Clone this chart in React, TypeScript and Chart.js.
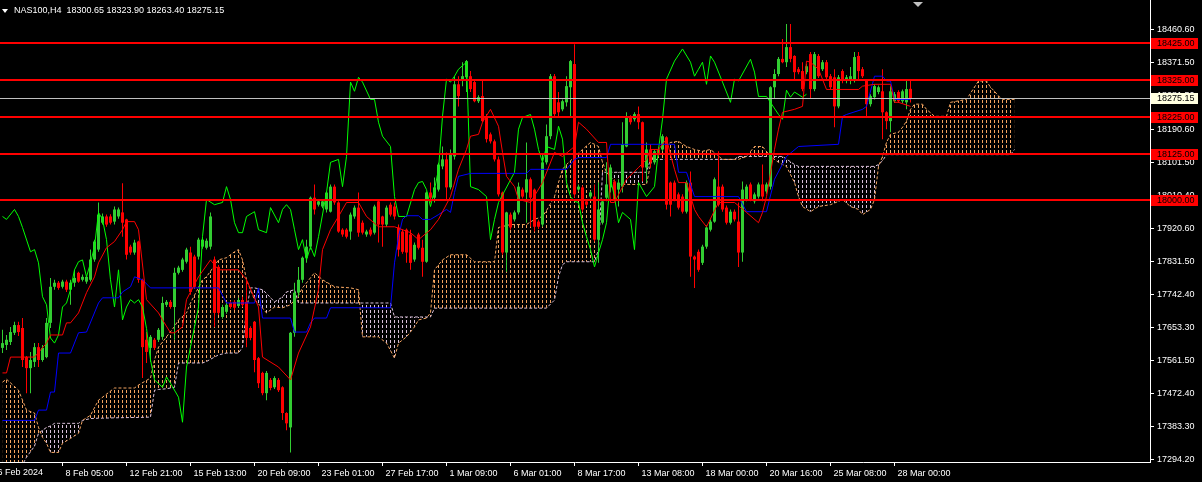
import React, { useEffect, useRef } from 'react';
import { Chart, registerables } from 'chart.js';
Chart.register(...registerables);

const W = 1202, H = 482;
const PRICE_MIN = 17287, PRICE_MAX = 18542;
const BAR_MIN = -0.625, BAR_MAX = 286.875;
const FONT = 'Liberation Sans';

const title = 'NAS100,H4  18300.65 18323.90 18263.40 18275.15';
const firstDateLabel = '6 Feb 2024';
const xTickBars = [15, 31, 47, 63, 79, 95, 111, 127, 143, 159, 175, 191, 207, 223];
const xTickLabels = ['8 Feb 05:00', '12 Feb 21:00', '15 Feb 13:00', '20 Feb 09:00', '23 Feb 01:00', '27 Feb 17:00', '1 Mar 09:00', '6 Mar 01:00', '8 Mar 17:00', '13 Mar 08:00', '18 Mar 00:00', '20 Mar 16:00', '25 Mar 08:00', '28 Mar 00:00'];
const yTicks = [17294.2, 17383.3, 17472.4, 17561.5, 17653.3, 17742.4, 17831.5, 17920.6, 18010.4, 18101.5, 18190.6, 18281.5, 18371.5, 18460.6];
const levels = [18425, 18325, 18225, 18125, 18000];
const bid = 18275.15;

const open = [
17597,17605,17613,17638,17659,17651,17572,17542,17559,17599,
17564,17572,17665,17763,17774,17763,17777,17755,17774,17801,
17782,17777,17782,17837,17864,17937,17954,17954,17940,17954,
17965,17946,17872,17856,17886,17782,17619,17597,17619,17619,
17627,17714,17722,17708,17801,17809,17831,17856,17845,17845,
17872,17869,17872,17837,17817,17681,17695,17719,17722,17711,
17727,17722,17651,17668,17569,17529,17474,17510,17490,17510,
17490,17420,17381,17638,17747,17782,17842,17872,18005,17986,
17981,17973,17967,18035,17992,17918,17918,17913,17954,17978,
17937,17905,17918,17910,17995,17954,17932,17986,17981,17924,
17913,17918,17905,17837,17905,17869,17831,18019,18005,18027,
18090,18109,18033,18117,18313,18322,18332,18335,18319,18267,
18281,18226,18177,18158,18109,18019,17856,17959,17946,17965,
18027,18019,18055,18027,17940,17932,18101,18172,18335,18264,
18245,18264,18305,18368,18027,18033,17995,18008,18008,17891,
17937,18005,18033,18049,18027,18035,18144,18223,18218,18232,
18210,18087,18136,18101,18136,18136,18169,18046,18046,18014,
18008,17967,18046,17845,17858,17828,17872,17918,17940,18035,
18035,17978,17937,17967,17940,17856,18000,18041,17995,18008,
18041,18022,18035,18305,18341,18382,18373,18414,18390,18354,
18349,18346,18395,18300,18390,18354,18373,18335,18332,18253,
18349,18322,18322,18322,18390,18354,18322,18259,18278,18292,
18294,18237,18213,18267,18292,18267,18264,18300.65];
const high = [
17646,17632,17654,17668,17668,17678,17575,17586,17610,17610,
17605,17678,17787,17782,17779,17782,17782,17782,17809,17804,
17796,17793,17864,17891,17992,17962,17959,17960,17981,17978,
18044,17948,17877,17891,17888,17785,17640,17632,17624,17651,
17736,17727,17727,17815,17820,17842,17869,17872,17850,17896,
17896,17894,17965,17845,17822,17714,17719,17725,17727,17733,
17736,17782,17656,17670,17572,17532,17534,17515,17520,17515,
17493,17422,17640,17774,17817,17845,17891,18008,18041,18000,
18000,18022,18041,18041,17995,17922,17922,17965,17984,18019,
17943,17918,17924,17986,18000,17956,17984,17992,17992,17932,
17918,17921,17918,17883,17910,17891,18022,18046,18060,18100,
18144,18128,18136,18335,18335,18373,18379,18349,18322,18283,
18322,18232,18182,18163,18117,18022,17967,17965,17970,18046,
18033,18155,18060,18030,17945,18123,18204,18341,18341,18292,
18272,18335,18379,18422,18041,18038,18000,18024,18041,18046,
18000,18101,18095,18055,18055,18210,18237,18229,18237,18253,
18212,18155,18150,18136,18142,18177,18172,18049,18052,18019,
18014,18052,18076,17848,17864,17877,17930,17946,18060,18131,
18041,17984,17973,17973,17992,18049,18041,18046,18019,18046,
18095,18046,18308,18354,18387,18436,18477,18477,18392,18360,
18373,18368,18401,18401,18395,18379,18379,18341,18354,18338,
18354,18338,18360,18401,18401,18360,18327,18286,18313,18310,
18354,18240,18308,18292,18297,18299,18322,18323.9];
const low = [
17583,17591,17605,17632,17629,17545,17474,17474,17545,17545,
17559,17569,17651,17755,17755,17758,17749,17714,17763,17774,
17777,17771,17777,17831,17858,17932,17926,17932,17932,17948,
17899,17837,17850,17850,17774,17515,17556,17559,17591,17613,
17619,17708,17703,17619,17796,17804,17826,17741,17757,17837,
17866,17864,17864,17654,17686,17676,17690,17703,17700,17706,
17708,17599,17618,17531,17488,17468,17455,17482,17485,17477,
17401,17373,17313,17627,17736,17774,17828,17864,17959,17981,
17976,17965,17965,17986,17910,17899,17894,17891,17948,17899,
17905,17899,17900,17905,17883,17872,17926,17954,17946,17845,
17853,17828,17809,17831,17864,17790,17828,17992,17992,18022,
18082,18000,18027,18109,18253,18308,18292,18292,18264,18262,
18210,18155,18152,18103,18008,17850,17804,17918,17940,17959,
18003,17937,17926,17913,17920,17926,18095,18164,18226,18226,
18240,18253,18226,18005,18022,17967,17981,18003,17886,17828,
17932,17995,18019,17995,17981,18019,18142,18204,18212,18191,
18049,18046,18087,18095,18117,18131,17973,17954,17995,17973,
17962,17962,17790,17760,17804,17822,17866,17913,17937,17981,
17967,17932,17932,17940,17817,17831,17995,17995,17989,18003,
17995,18016,18027,18273,18335,18370,18360,18373,18322,18340,
18294,18340,18273,18294,18330,18349,18327,18300,18196,18248,
18316,18316,18313,18318,18327,18330,18223,18253,18272,18286,
18164,18191,18183,18262,18262,18262,18245,18263.4];
const close = [
17610,17619,17640,17659,17640,17564,17542,17564,17599,17564,
17597,17665,17763,17774,17760,17777,17755,17774,17787,17777,
17790,17790,17837,17886,17959,17954,17932,17937,17973,17973,
17937,17850,17856,17883,17782,17599,17586,17627,17597,17646,
17719,17722,17708,17801,17815,17837,17864,17749,17763,17891,
17891,17888,17954,17692,17692,17708,17714,17708,17706,17727,
17714,17624,17624,17564,17501,17474,17529,17488,17515,17482,
17420,17392,17638,17747,17782,17842,17872,18005,17973,17995,
17995,18019,18035,17992,17913,17905,17899,17959,17978,17910,
17910,17913,17905,17981,17932,17932,17978,17959,17954,17864,
17858,17856,17828,17877,17869,17831,18019,18005,18033,18095,
18109,18033,18123,18313,18281,18335,18376,18300,18267,18278,
18213,18164,18158,18109,18014,17856,17965,17924,17965,18035,
18008,18055,18005,17926,17926,18101,18172,18335,18232,18237,
18267,18308,18376,18014,18035,17973,17986,18019,17891,17973,
17995,18041,18087,18000,18046,18150,18223,18210,18232,18210,
18087,18136,18101,18131,18123,18172,17986,17986,18000,17978,
17967,18046,17845,17837,17809,17872,17924,17940,18055,17986,
17973,17937,17967,17946,17856,18027,18035,18000,18014,18041,
18008,18041,18305,18341,18382,18373,18414,18382,18346,18346,
18300,18362,18300,18395,18335,18373,18332,18305,18253,18332,
18322,18332,18335,18387,18349,18335,18259,18281,18308,18305,
18237,18213,18294,18286,18267,18294,18300,18275.15];

// Ichimoku lines: [bar, price] vertices
const tenkan = [[0,17529],[1,17529],[2,17572],[8,17572],[11,17610],[12,17632],[15,17632],[16,17665],[17,17665],[19,17692],[21,17747],[23,17790],[24,17828],[26,17869],[28,17886],[30,17918],[31,17940],[33,17940],[34,17918],[36,17728],[39,17692],[40,17673],[42,17638],[43,17638],[45,17654],[46,17728],[49,17790],[52,17836],[54,17809],[59,17809],[61,17782],[64,17708],[65,17572],[69,17545],[72,17510],[74,17583],[77,17654],[79,17755],[80,17864],[82,17918],[84,17954],[86,17992],[89,17992],[91,17954],[94,17926],[98,17926],[102,17910],[104,17891],[107,17918],[109,17946],[112,18008],[114,18082],[116,18136],[117,18172],[119,18177],[120,18210],[122,18245],[124,18199],[125,18128],[126,18063],[128,18035],[129,18000],[132,17992],[135,18046],[138,18128],[140,18117],[143,18144],[144,18210],[146,18191],[149,18155],[151,18155],[152,17992],[153,17992],[156,18055],[159,18087],[161,18109],[162,18136],[164,18136],[166,18164],[168,18082],[169,18046],[171,18046],[173,17973],[174,17954],[176,17926],[179,17992],[183,17992],[186,17965],[189,17937],[190,17965],[191,18008],[193,18136],[194,18191],[195,18237],[198,18245],[200,18253],[201,18376],[202,18373],[204,18354],[206,18299],[214,18299],[215,18308],[218,18313],[222,18313],[223,18264],[224,18264],[227,18253]];
const kijun = [[0,17400],[8,17400],[9,17428],[11,17428],[12,17477],[13,17477],[14,17583],[17,17583],[19,17638],[21,17640],[24,17719],[25,17733],[29,17733],[30,17749],[32,17763],[33,17790],[35,17782],[37,17760],[54,17760],[56,17719],[63,17719],[64,17760],[65,17678],[72,17678],[73,17640],[76,17640],[77,17665],[78,17678],[81,17678],[82,17706],[97,17706],[98,17828],[99,17899],[100,17946],[101,17956],[104,17956],[105,17946],[107,17946],[109,17959],[111,17973],[112,17965],[113,18019],[114,18063],[117,18071],[131,18071],[132,18082],[141,18082],[143,18109],[144,18114],[151,18114],[152,18150],[168,18150],[169,18074],[171,18074],[173,18008],[184,18008],[186,17967],[191,17967],[193,18055],[196,18117],[199,18144],[209,18150],[210,18226],[211,18231],[215,18245],[216,18253],[218,18335],[220,18335],[221,18322],[222,18322],[223,18272],[227,18272]];
const chikou = [[0,17954],[1,17946],[3,17973],[4,17954],[5,17924],[7,17858],[8,17864],[9,17828],[10,17736],[11,17714],[12,17624],[13,17610],[14,17632],[15,17708],[16,17719],[17,17755],[18,17809],[19,17831],[20,17836],[21,17790],[22,17828],[23,17872],[24,17965],[25,17946],[26,17891],[27,17782],[28,17708],[29,17809],[30,17673],[31,17708],[32,17728],[33,17719],[34,17728],[35,17708],[36,17650],[37,17564],[38,17510],[40,17490],[41,17518],[42,17501],[44,17463],[45,17395],[46,17545],[49,17708],[50,17899],[51,18000],[53,17986],[55,17992],[56,18035],[57,18000],[58,17937],[59,17910],[60,17910],[61,17954],[63,17967],[64,17918],[66,17910],[67,17978],[69,17937],[70,17973],[71,17986],[72,17973],[73,17918],[74,17864],[75,17891],[76,17836],[77,17872],[78,17845],[79,17899],[81,18019],[82,18101],[84,18109],[85,18035],[86,18117],[87,18319],[88,18294],[89,18332],[90,18319],[92,18272],[93,18272],[94,18210],[95,18172],[97,18144],[98,18008],[99,17954],[101,17954],[103,18027],[104,18046],[105,18049],[106,18027],[107,17981],[108,18027],[109,18082],[110,18226],[111,18327],[112,18319],[113,18335],[114,18354],[116,18373],[117,18035],[119,18027],[121,18008],[122,17891],[123,17946],[124,17992],[128,18074],[129,18191],[130,18223],[132,18231],[133,18191],[134,18136],[135,18101],[136,18144],[138,18136],[139,18199],[140,18164],[141,18046],[142,18008],[143,17995],[144,17992],[145,17937],[146,17899],[147,17864],[148,17817],[149,17855],[150,17891],[151,17937],[152,18055],[153,18008],[154,17937],[155,17965],[157,17946],[158,17864],[159,18046],[161,18008],[163,18035],[164,18136],[165,18218],[166,18327],[168,18376],[170,18409],[172,18373],[173,18335],[174,18354],[175,18373],[176,18313],[177,18390],[178,18373],[180,18319],[182,18264],[183,18327],[184,18322],[187,18381],[188,18346],[189,18280],[191,18280],[194,18231],[195,18218],[196,18297],[197,18278],[198,18292],[200,18278],[201,18286]];

// Cloud (Senkou spans), shared bar grid
const cloudBars = [0,1,4,5,6,8,9,10,11,12,13,14,15,17,19,20,22,24,25,28,33,34,37,38,39,41,43,44,46,47,50,51,54,56,58,59,60,61,62,63,65,66,68,70,71,72,73,74,75,78,80,83,87,89,90,94,96,97,98,99,101,103,104,106,107,108,110,112,116,118,123,124,127,131,133,135,136,138,139,140,141,145,147,148,149,150,151,153,154,161,162,163,167,169,171,173,175,177,180,183,184,186,188,190,192,194,195,196,198,199,200,202,204,207,209,210,212,214,215,217,218,219,220,221,222,224,225,226,227,228,230,231,233,236,237,241,244,246,247,248,249,250,252,253];
const spanA = [17504,17512,17482,17455,17428,17420,17381,17354,17338,17313,17313,17313,17338,17351,17365,17400,17414,17455,17463,17488,17488,17496,17515,17564,17599,17627,17655,17673,17692,17719,17782,17790,17836,17842,17858,17864,17836,17782,17755,17728,17705,17692,17708,17706,17710,17714,17727,17740,17760,17801,17782,17763,17760,17755,17627,17627,17610,17590,17569,17610,17627,17654,17673,17678,17692,17809,17836,17850,17850,17831,17831,17924,17932,17932,17946,17954,17970,18008,18046,18082,18095,18136,18155,18150,18144,18101,18074,18049,18041,18041,18095,18128,18155,18158,18144,18136,18131,18136,18109,18109,18109,18117,18144,18144,18117,18101,18095,18090,18046,18008,17981,17967,17981,17986,17995,18000,17981,17973,17959,17973,18000,18090,18117,18155,18177,18183,18196,18213,18245,18259,18259,18245,18226,18226,18264,18272,18322,18322,18305,18294,18281,18272,18272,18272];
const spanB = [17260,17261,17265,17280,17300,17330,17365,17373,17381,17385,17392,17392,17392,17392,17392,17400,17405,17406,17406,17407,17408,17408,17409,17482,17484,17486,17490,17556,17556,17556,17556,17560,17578,17583,17583,17583,17599,17700,17760,17760,17755,17745,17722,17735,17749,17752,17755,17719,17719,17719,17719,17719,17719,17719,17719,17719,17719,17719,17681,17681,17681,17681,17681,17681,17681,17705,17705,17705,17705,17705,17705,17705,17705,17705,17705,17705,17705,17727,17790,17823,17831,17831,17831,17831,17864,18074,18074,18074,18074,18074,18109,18109,18109,18109,18109,18109,18109,18109,18109,18109,18117,18117,18117,18117,18117,18117,18117,18110,18095,18090,18090,18090,18090,18090,18090,18090,18090,18090,18090,18090,18090,18095,18105,18122,18122,18122,18122,18122,18122,18122,18122,18122,18122,18122,18122,18122,18122,18122,18122,18122,18122,18122,18122,18136,18150];

const BULL = '#32cd32', BEAR = '#ff0000';

function hatch(color: string) {
  const c = document.createElement('canvas');
  c.width = 4; c.height = 5;
  const g = c.getContext('2d')!;
  g.fillStyle = color;
  g.fillRect(2, 0, 1, 3);
  return g.createPattern(c, 'repeat')!;
}

const pts = (arr: number[][]) => arr.map(([x, y]) => ({ x, y }));

export default function App() {
  const ref = useRef<HTMLCanvasElement | null>(null);
  useEffect(() => {
    document.body.style.margin = '0';
    document.body.style.background = '#000';
    document.body.style.overflow = 'hidden';
    const canvas = ref.current!;
    const colors = open.map((o, i) => (close[i] >= o ? BULL : BEAR));
    const font = { family: FONT, size: 9 };

    const overlay = {
      id: 'overlay',
      afterDatasetsDraw(chart: any) {
        const { ctx, chartArea: a, scales } = chart;
        const y = scales.y;
        ctx.save();
        ctx.beginPath();
        ctx.rect(a.left, a.top, a.right - a.left, a.bottom - a.top);
        ctx.clip();
        const yb = Math.round(y.getPixelForValue(bid));
        ctx.fillStyle = '#c0c0c0';
        ctx.fillRect(a.left, yb, a.right - a.left, 1);
        ctx.fillStyle = '#ff0000';
        for (const lv of levels) {
          const yy = Math.round(y.getPixelForValue(lv));
          ctx.fillRect(a.left, yy - 1, a.right - a.left, 2);
        }
        ctx.restore();
      },
      afterDraw(chart: any) {
        const { ctx, chartArea: a, scales } = chart;
        const y = scales.y, x = scales.x;
        ctx.save();
        ctx.font = `9px "${FONT}"`;
        ctx.textBaseline = 'middle';
        ctx.textAlign = 'left';
        const box = (v: number, bg: string) => {
          const yy = Math.round(y.getPixelForValue(v));
          ctx.fillStyle = bg;
          ctx.fillRect(a.right + 1, yy - 5, 47, 11);
          ctx.fillStyle = '#000';
          ctx.fillText(v.toFixed(2), a.right + 7, yy + 0.5);
        };
        for (const lv of levels) box(lv, '#ff0000');
        box(bid, '#ffffe0');
        ctx.fillStyle = '#ffffff';
        ctx.beginPath();
        ctx.moveTo(2, 9); ctx.lineTo(8, 9); ctx.lineTo(5, 13); ctx.closePath();
        ctx.fill();
        ctx.fillText(title, 14, 10.5);
        ctx.textBaseline = 'top';
        ctx.fillText(firstDateLabel, x.getPixelForValue(-2) + 3, a.bottom + 6);
        ctx.fillStyle = '#c0c0c0';
        ctx.beginPath();
        ctx.moveTo(913, 2); ctx.lineTo(923, 2); ctx.lineTo(918, 7); ctx.closePath();
        ctx.fill();
        ctx.restore();
      },
    };

    const datasets: any[] = [
      { type: 'line', data: pts(tenkan), borderColor: '#ff0000', borderWidth: 1, pointRadius: 0, tension: 0, order: 1 },
      { type: 'line', data: pts(kijun), borderColor: '#0000ff', borderWidth: 1, pointRadius: 0, tension: 0, order: 1 },
      { type: 'line', data: pts(chikou), borderColor: '#00ff00', borderWidth: 1, pointRadius: 0, tension: 0, order: 1 },
      { type: 'bar', data: open.map((o, i) => ({ x: i, y: [o, close[i]] })), backgroundColor: colors, barThickness: 3, maxBarThickness: 3, grouped: false, inflateAmount: 0, borderWidth: 0, order: 2 },
      { type: 'bar', data: low.map((l, i) => ({ x: i, y: [l, high[i]] })), backgroundColor: colors, barThickness: 1, maxBarThickness: 1, grouped: false, inflateAmount: 0, borderWidth: 0, order: 3 },
      { type: 'line', data: cloudBars.map((b, i) => ({ x: b, y: spanA[i] })), borderColor: '#f4a460', borderWidth: 1, borderDash: [3, 2], pointRadius: 0, tension: 0, fill: false, order: 7 },
      { type: 'line', data: cloudBars.map((b, i) => ({ x: b, y: spanB[i] })), borderColor: '#d8bfd8', borderWidth: 1, borderDash: [3, 2], pointRadius: 0, tension: 0, fill: false, order: 8 },
    ];
    datasets.push({
      type: 'line', data: cloudBars.map((b, i) => ({ x: b, y: spanA[i] })), borderColor: 'rgba(0,0,0,0)', borderWidth: 0, pointRadius: 0, tension: 0,
      fill: { target: 6, above: hatch('#f4a460'), below: hatch('#d8bfd8') }, order: 9,
    });

    const chart = new Chart(canvas, {
      type: 'bar',
      data: { datasets },
      options: {
        animation: false,
        responsive: false,
        maintainAspectRatio: false,
        events: [],
        layout: { padding: 0 },
        plugins: { legend: { display: false }, tooltip: { enabled: false } },
        scales: {
          x: {
            type: 'linear', min: BAR_MIN, max: BAR_MAX, offset: false, position: 'bottom',
            afterBuildTicks: (s: any) => { s.ticks = xTickBars.map((v) => ({ value: v })); },
            afterFit: (s: any) => { s.height = 20; s.paddingLeft = 0; s.paddingRight = 0; s.paddingTop = 0; s.paddingBottom = 0; },
            ticks: { autoSkip: false, maxRotation: 0, align: 'start', labelOffset: 3, padding: 2, color: '#ffffff', font,
              callback: (v: any) => { const k = xTickBars.indexOf(Number(v)); return k >= 0 ? xTickLabels[k] : ''; } },
            grid: { drawOnChartArea: false, drawTicks: true, tickLength: 4, color: '#ffffff', offset: false },
            border: { display: true, color: '#ffffff' },
          },
          y: {
            type: 'linear', position: 'right', min: PRICE_MIN, max: PRICE_MAX, beginAtZero: false,
            afterBuildTicks: (s: any) => { s.ticks = yTicks.map((v) => ({ value: v })); },
            afterFit: (s: any) => { s.width = 52; s.paddingTop = 0; s.paddingBottom = 0; s.paddingLeft = 0; s.paddingRight = 0; },
            ticks: { autoSkip: false, padding: 3, color: '#ffffff', font, callback: (v: any) => Number(v).toFixed(2) },
            grid: { drawOnChartArea: false, drawTicks: true, tickLength: 4, color: '#ffffff' },
            border: { display: true, color: '#ffffff' },
          },
        },
      } as any,
      plugins: [overlay],
    });
    return () => chart.destroy();
  }, []);
  return (
    <canvas ref={ref} width={W} height={H} style={{ display: 'block', width: W, height: H, background: '#000' }} />
  );
}
